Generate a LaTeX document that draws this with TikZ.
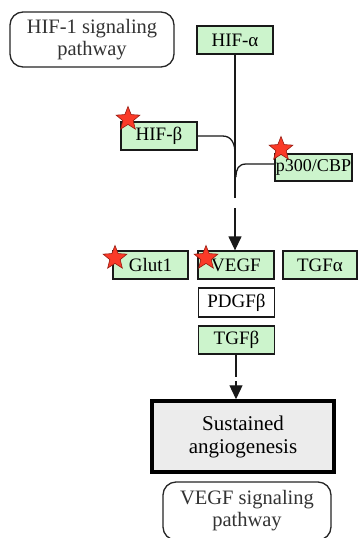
\documentclass[tikz,border=0pt]{standalone}
\usepackage{fontspec}
\setmainfont{Liberation Serif}
\usetikzlibrary{arrows.meta,shapes.geometric}
\definecolor{genefill}{RGB}{204,244,204}
\definecolor{starfill}{RGB}{250,58,40}
\definecolor{stardraw}{RGB}{150,25,15}
\definecolor{sustfill}{RGB}{236,236,236}
\tikzset{
  gene/.style={draw=black!90, line width=1.3pt, fill=genefill, minimum width=76pt, minimum height=28pt, inner sep=0pt, font=\fontsize{19}{21}\selectfont},
  pathway/.style={draw=black!85, line width=1.3pt, rounded corners=13pt, inner sep=0pt, align=center, font=\fontsize{20.5}{22}\selectfont, text=black!80},
  sust/.style={draw=black, line width=3.5pt, fill=sustfill, inner sep=0pt, align=center, font=\fontsize{21}{23}\selectfont},
  redstar/.style={star, star points=5, star point ratio=2.3, fill=starfill, draw=stardraw, line width=0.6pt, minimum size=25pt, inner sep=0pt},
  conn/.style={draw=black!90, line width=1.3pt},
  tip/.style={-{Triangle[width=13pt,length=14pt]}}
}
\begin{document}
\begin{tikzpicture}[x=1pt,y=-1pt]
\useasboundingbox (0,0) rectangle (358,538);
\fill[white] (0,0) rectangle (358,538);

\node[pathway, minimum width=164pt, minimum height=55pt] (hif1) at (92,39.5) {HIF-1 signaling\\pathway};
\node[gene] (hifa) at (235,40) {HIF-α};
\node[gene] (hifb) at (159,136) {HIF-β};
\node[gene, minimum width=77pt, minimum height=27pt, font=\fontsize{18}{20}\selectfont] (p300) at (313.5,167.5) {p300/CBP};
\node[gene, minimum width=75pt] (glut1) at (150.5,265) {Glut1};
\node[gene] (vegf) at (236,265) {VEGF};
\node[gene, minimum width=74pt] (tgfa) at (320,265) {TGFα};
\node[gene, fill=white, minimum height=29pt] (pdgfb) at (236.5,302.5) {PDGFβ};
\node[gene] (tgfb) at (236.5,340) {TGFβ};
\node[sust, minimum width=182pt, minimum height=71pt] (sust) at (243,436.5) {Sustained\\angiogenesis};
\node[pathway, minimum width=168pt, minimum height=58pt] (vegfp) at (247,511) {VEGF signaling\\pathway};

\coordinate (m1) at (235,198);
\coordinate (m2) at (235,208);
\coordinate (j1) at (235,153);
\coordinate (j2) at (236,177);
\coordinate (t1) at (236,377);
\coordinate (t2) at (236,381);

\draw[conn] (hifa.south -| m1) -- (m1);
\draw[conn, tip] (m2) -- (m2 |- vegf.north);
\draw[conn] (hifb.east) -- ++(25,0) .. controls +(9,0) and +(0,-9) .. (j1);
\draw[conn] ([yshift=3.5pt]p300.west) -- ++(-28,0) .. controls +(-8,0) and +(0,-8) .. (j2);
\draw[conn] (tgfb.south -| t1) -- (t1);
\draw[conn, tip] (t2) -- (t2 |- sust.north);

\node[redstar] (s1) at (128,119) {};
\node[redstar] (s2) at (281,149) {};
\node[redstar] (s3) at (115,258) {};
\node[redstar] (s4) at (206,258) {};
\end{tikzpicture}
\end{document}
